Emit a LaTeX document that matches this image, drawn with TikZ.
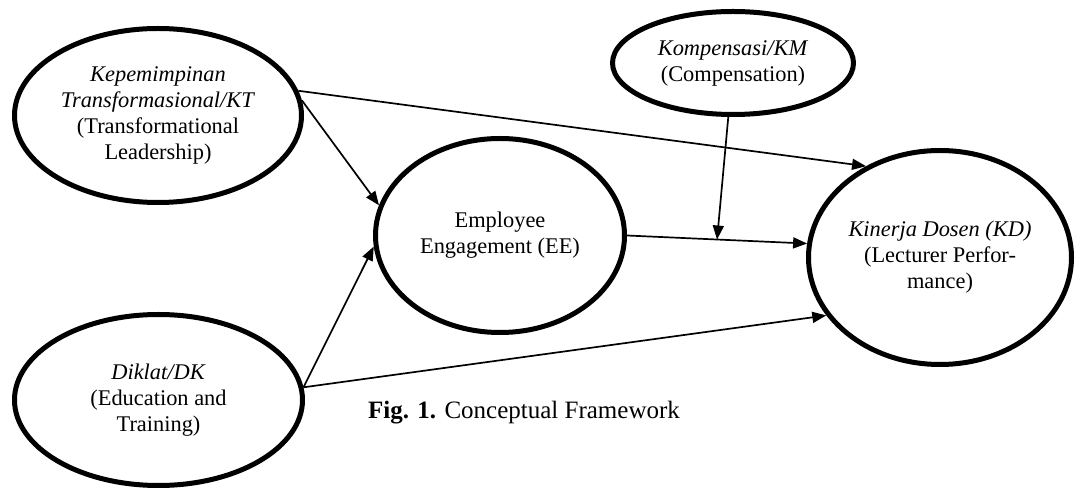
\documentclass[tikz,border=0pt]{standalone}
\usepackage{fontspec}
\setmainfont{Liberation Serif}
\usepackage{tikz}
\usetikzlibrary{shapes.geometric, arrows.meta}

\begin{document}
\begin{tikzpicture}[x=0.5pt, y=-0.5pt,
		construct/.style={ellipse, draw, line width=2.5pt, inner sep=0pt, align=center, font=\fontsize{11.2}{13}\selectfont},
		link/.style={line width=0.85pt},
		>={Triangle[length=7pt, width=5.5pt]}]
		\useasboundingbox (0, 0) rectangle (1076, 491);

		\node at (158, 115.5) [construct, minimum width=143.5pt, minimum height=87pt] (KT) {\textit{Kepemimpinan}\\\textit{Transformasional/KT}\\(Transformational\\Leadership)};
		\node at (733, 63) [construct, minimum width=120.5pt, minimum height=51.5pt] (KM) {\textit{Kompensasi/KM}\\(Compensation)};
		\node at (500, 235.5) [construct, minimum width=124.5pt, minimum height=97pt] (EE) {Employee\\Engagement (EE)};
		\node at (940, 257.5) [construct, minimum width=131.5pt, minimum height=107pt] (KD) {\textit{Kinerja Dosen (KD)}\\(Lecturer Perfor-\\mance)};
		\node at (158.5, 400) [construct, minimum width=144pt, minimum height=85.5pt] (DK) {\textit{Diklat/DK}\\(Education and\\Training)};

		\node at (524, 413) [font=\fontsize{12.5}{15}\selectfont] (caption) {\textbf{Fig. 1.} Conceptual Framework};

		\draw [link, ->] (KT.6) -- (EE.166);
		\draw [link, ->] (KT.10) -- (KD.129);
		\draw [link, ->] (EE.east) -- coordinate[pos=0.5] (mid) (KD.174);
		\draw [link, ->] (KM.265) -- (mid);
		\draw [link, ->] (DK.5) -- (EE.185);
		\draw [link, ->] (DK.5) -- (KD.207);
	\end{tikzpicture}
\end{document}
